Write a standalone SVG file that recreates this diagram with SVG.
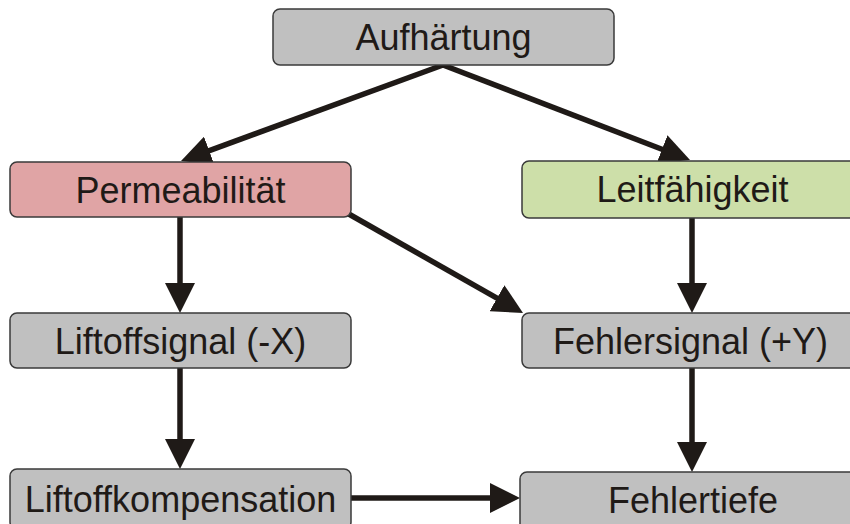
<svg xmlns="http://www.w3.org/2000/svg" width="850" height="524" viewBox="0 0 850 524">
<style>
.box{stroke:#3a3a3a;stroke-width:1.5}
.gray{fill:#c0c0c0}
.pink{fill:#e0a4a5}
.green{fill:#cddfa9}
.lbl{font-family:"Liberation Sans",Arial,sans-serif;font-size:36px;fill:#1f1a17;text-anchor:middle}
.con{stroke:#1f1a17;stroke-width:5.5;fill:none;marker-end:url(#ah)}
</style>
<defs>
<marker id="ah" markerUnits="userSpaceOnUse" viewBox="-2 -15 30 30" refX="0" refY="0" markerWidth="30" markerHeight="30" orient="auto">
<path d="M-2,-15 L28,0 L-2,15 z" fill="#1f1a17"/>
</marker>
</defs>
<rect width="850" height="524" fill="#ffffff"/>
<g id="connectors">
<line class="con" x1="443" y1="65" x2="207.3" y2="151.4"/>
<line class="con" x1="443" y1="65" x2="663.9" y2="150"/>
<line class="con" x1="180" y1="217" x2="180" y2="285"/>
<line class="con" x1="347" y1="213" x2="498.7" y2="299.2"/>
<line class="con" x1="692" y1="218" x2="692" y2="285"/>
<line class="con" x1="180" y1="368" x2="180" y2="441"/>
<line class="con" x1="692" y1="368" x2="692" y2="444"/>
<line class="con" x1="351" y1="498" x2="492" y2="498"/>
</g>
<g id="aufhaertung">
<rect class="box gray" x="273" y="9" width="341" height="56" rx="7"/>
<text class="lbl" x="443.5" y="50">Aufhärtung</text>
</g>
<g id="permeabilitaet">
<rect class="box pink" x="10" y="162" width="341" height="55" rx="7"/>
<text class="lbl" x="180.5" y="202.5">Permeabilität</text>
</g>
<g id="leitfaehigkeit">
<rect class="box green" x="522" y="161" width="341" height="57" rx="7"/>
<text class="lbl" x="692.5" y="202">Leitfähigkeit</text>
</g>
<g id="liftoffsignal">
<rect class="box gray" x="10" y="313" width="341" height="55" rx="7"/>
<text class="lbl" x="180.5" y="353.5">Liftoffsignal (-X)</text>
</g>
<g id="fehlersignal">
<rect class="box gray" x="522" y="313" width="341" height="55" rx="7"/>
<text class="lbl" x="690.5" y="353.5">Fehlersignal (+Y)</text>
</g>
<g id="liftoffkompensation">
<rect class="box gray" x="10" y="469" width="341" height="60" rx="7"/>
<text class="lbl" x="180.5" y="512">Liftoffkompensation</text>
</g>
<g id="fehlertiefe">
<rect class="box gray" x="520" y="472" width="341" height="60" rx="7"/>
<text class="lbl" x="693" y="513">Fehlertiefe</text>
</g>
</svg>
